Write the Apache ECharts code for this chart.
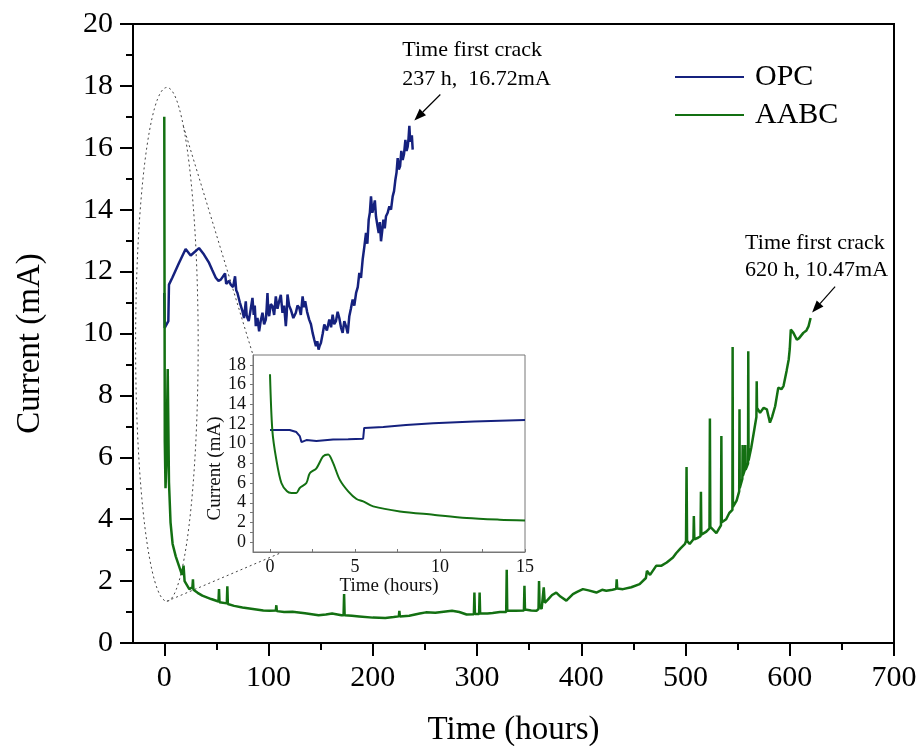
<!DOCTYPE html>
<html>
<head>
<meta charset="utf-8">
<script src="https://cdn.jsdelivr.net/npm/echarts@6/dist/echarts.min.js"></script>
<style>
html,body{margin:0;padding:0;background:#fff;}
#c{width:919px;height:746px;}
</style>
</head>
<body>
<div id="c"></div>
<script>
// ---------- DATA ----------
const seriesNames = ['OPC', 'AABC'];

const opcTime = [0, 0.4, 2, 3.9, 4.5, 7.7, 14.1, 20.5, 25.3, 33.3,
  38.1, 43, 46, 49.4, 52, 54.2, 56, 58.3, 59.4, 60.6,
  62, 63.8, 66, 67.9, 69, 70.2, 72.5, 75, 76.5, 78.2,
  79, 79.8, 81, 82.5, 84.6, 85.8, 86.8, 87.8, 89.4, 91,
  92.5, 94.2, 95.8, 97.4, 98.2, 99, 99.8, 100.6, 102.2, 103.8,
  105.4, 107, 108.6, 110.2, 111.8, 113.4, 115, 116.6, 117.4, 118.2,
  119.8, 121.4, 123.8, 126.2, 127.8, 129.5, 131, 132.7, 134, 135.2,
  137, 139, 140.7, 142.3, 143.9, 145.5, 146.8, 148, 149, 150.3,
  152, 153.5, 156, 158.3, 160, 161.5, 163, 164.7, 166.3, 167.9,
  169.5, 171.1, 172.7, 174.3, 176, 177.5, 179, 180.7, 182.3, 184,
  185.6, 187.1, 188.7, 190.3, 191.9, 193.5, 194.8, 196.1, 197.2, 198.3,
  199.6, 200.9, 202, 203.1, 204.4, 205.7, 206.8, 207.9, 209, 210.2,
  211.5, 212.7, 214.3, 215.9, 217.5, 219.1, 220.4, 221.7, 222.8, 223.9,
  225, 226.2, 227.4, 228.7, 230, 231.3, 232.4, 233.5, 234.3, 235.1,
  235.9, 236.7, 237.5, 238.3];
const opcCurrent = [11.31, 10.18, 10.13, 10.4, 11.58, 11.8, 12.28, 12.73, 12.52, 12.76,
  12.55, 12.28, 12.05, 11.8, 11.7, 11.74, 11.7, 11.94, 11.6, 11.66,
  11.7, 11.58, 11.5, 11.85, 11.4, 11.31, 11.0, 10.72, 10.5, 11.04,
  10.6, 10.5, 10.4, 10.7, 11.15, 10.6, 10.9, 10.24, 10.5, 10.07,
  10.4, 10.67, 10.3, 10.45, 10.8, 11.31, 10.7, 10.56, 10.95, 10.88,
  10.6, 11.2, 10.8, 11.04, 11.25, 10.67, 10.9, 10.24, 10.6, 11.26,
  10.9, 10.77, 10.5, 10.67, 10.9, 10.83, 10.6, 11.2, 10.85, 11.04,
  10.7, 10.45, 10.3, 10.02, 9.8, 9.59, 9.75, 9.48, 9.6, 9.7,
  10.0, 10.29, 10.1, 10.45, 10.2, 10.61, 10.3, 10.4, 10.7, 10.5,
  10.2, 10.02, 10.4, 10.24, 10.0, 10.56, 10.8, 11.1, 10.9, 11.31,
  11.5, 11.96, 11.8, 12.39, 12.8, 13.25, 12.9, 13.68, 13.9, 14.43,
  13.9, 14.1, 14.3, 13.78, 13.5, 13.25, 13.6, 12.98, 13.3, 13.68,
  13.4, 13.79, 13.9, 14.11, 14.0, 14.43, 14.6, 14.97, 15.2, 15.67,
  15.3, 15.4, 15.9, 15.61, 15.8, 16.26, 15.9, 16.04, 16.3, 16.71,
  16.2, 16.15, 16.4, 15.94];

const aabcTime = [0, 0.5, 1.2, 2.0, 3.3, 4.5, 6, 8, 11, 14,
  17, 18.5, 19.5, 24, 27, 27.5, 28, 32, 36.5, 45,
  52, 52.5, 53, 60, 60.5, 61, 67, 75, 85, 95,
  101, 107, 107.5, 108, 115, 123, 135, 148, 155, 161,
  170, 172, 172.5, 173, 180, 187, 200, 212, 220, 225,
  225.5, 226, 235, 245, 251, 260, 270, 276, 283, 290,
  297, 297.5, 298, 302, 302.5, 303, 310, 315, 322, 328,
  328.5, 329, 337, 345, 345.5, 346, 352, 357, 359, 359.5,
  360, 362, 364, 365, 368, 369.6, 372, 376, 380, 385.7,
  392, 396, 401.6, 407, 414.5, 420, 424, 430, 433.5, 434,
  434.5, 440, 448, 456, 462, 463, 466, 472, 477, 482,
  488, 491, 495, 499.5, 500.5, 501, 501.5, 504, 507.6, 508,
  508.5, 512, 514.4, 514.8, 515.2, 520, 523, 523.4, 523.8, 529.6,
  534, 534.4, 534.8, 539, 542, 545, 545.2, 545.5, 549, 551.5,
  551.8, 552, 554.5, 554.8, 555, 557, 557.3, 557.6, 560, 560.2,
  560.5, 563, 566, 568, 568.3, 568.6, 571.5, 575, 578, 581,
  583, 586, 589, 592, 594, 597, 599, 600, 601, 603.5,
  606.8, 609, 613, 616, 618, 620];
const aabcCurrent = [17.0, 6.5, 5.0, 5.8, 8.85, 5.2, 3.9, 3.2, 2.8, 2.5,
  2.2, 2.5, 2.0, 1.74, 1.8, 2.06, 1.72, 1.62, 1.53, 1.42,
  1.34, 1.74, 1.32, 1.28, 1.83, 1.26, 1.2, 1.15, 1.1, 1.05,
  1.04, 1.05, 1.22, 1.03, 1.0, 1.01, 0.96, 0.9, 0.92, 0.95,
  0.9, 0.9, 1.58, 0.9, 0.88, 0.86, 0.82, 0.81, 0.84, 0.86,
  1.04, 0.86, 0.88, 0.95, 0.99, 0.98, 1.02, 1.04, 1.0, 0.92,
  0.93, 1.63, 0.94, 0.94, 1.63, 0.95, 0.95, 0.97, 1.0, 1.0,
  2.37, 1.05, 1.04, 1.05, 1.85, 1.08, 1.05, 1.04, 1.1, 2.0,
  1.2, 1.1, 1.8, 1.3, 1.4, 1.37, 1.55, 1.63, 1.5, 1.37,
  1.58, 1.65, 1.74, 1.7, 1.63, 1.72, 1.69, 1.72, 1.75, 2.06,
  1.76, 1.74, 1.8, 1.9, 2.1, 2.33, 2.2, 2.5, 2.5, 2.6,
  2.76, 2.9, 3.05, 3.2, 3.3, 5.69, 3.3, 3.2, 3.35, 4.1,
  3.35, 3.4, 3.45, 4.89, 3.5, 3.6, 3.7, 7.25, 3.75, 3.55,
  3.8, 6.69, 3.9, 4.0, 4.2, 4.3, 9.56, 4.4, 4.6, 4.9,
  7.55, 5.0, 5.3, 6.4, 5.4, 5.6, 6.4, 5.6, 5.8, 9.43,
  5.9, 6.3, 6.9, 7.3, 8.46, 7.6, 7.44, 7.6, 7.55, 7.12,
  7.3, 7.65, 8.25, 8.2, 8.3, 8.8, 9.16, 9.5, 10.13, 10.02,
  9.8, 9.85, 10.02, 10.1, 10.23, 10.5];

const insetOpcTime = [0, 1.16, 1.55, 1.75, 1.85, 2.14, 2.73, 3.71, 4.6, 5.48, 5.54, 6.66, 8, 9.6, 12, 15];
const insetOpcCurrent = [11.38, 11.38, 11.18, 10.77, 10.16, 10.36, 10.26, 10.43, 10.45, 10.5, 11.6, 11.7, 11.9, 12.06, 12.25, 12.4];
const insetAabcTime = [0, 0.14, 0.37, 0.67, 1.0, 1.26, 1.55, 1.75, 2.14, 2.34, 2.73, 3.12, 3.42, 3.71, 4.1, 4.6, 5.09, 5.48, 6.07, 7.64, 9.6, 11.57, 13.5, 15];
const insetAabcCurrent = [17.05, 11.3, 8.4, 6.0, 5.16, 5.0, 5.0, 5.5, 6.0, 7.0, 7.5, 8.7, 8.9, 8.05, 6.35, 5.16, 4.38, 4.14, 3.63, 3.12, 2.78, 2.45, 2.28, 2.2];

// tick labels
const mainXTicks = [0, 100, 200, 300, 400, 500, 600, 700];
const mainXMinorTicks = [50, 150, 250, 350, 450, 550, 650];
const insetXTicks = [0, 5, 10, 15];
const insetXMinorTicks = [0, 2.5, 5, 7.5, 10, 12.5, 15];
const insetYTicks = [0, 2, 4, 6, 8, 10, 12, 14, 16, 18];
const insetYMinorTicks = [0, 1, 2, 3, 4, 5, 6, 7, 8, 9, 10, 11, 12, 13, 14, 15, 16, 17, 18];

// annotations
const crackTime = [237, 620];
const crackCurrent = [16.72, 10.47];
const crackLine1 = ['Time first crack', 'Time first crack'];
const crackLine2 = ['237 h,  16.72mA', '620 h, 10.47mA'];

// ---------- CHART ----------
const FONT = '"Liberation Serif", "Times New Roman", serif';
const BLUE = '#15217e';
const GREEN = '#137012';
const zip = (a, b) => a.map((v, i) => [v, b[i]]);

const chart = echarts.init(document.getElementById('c'), null, {renderer: 'canvas', width: 919, height: 746});

const blackLine = {show: true, onZero: false, lineStyle: {color: '#000', width: 2}};
const grayLine = {show: true, onZero: false, lineStyle: {color: '#777', width: 1}};

chart.setOption({
  animation: false,
  backgroundColor: '#fff',
  grid: [
    {left: 133, right: 25, top: 24, bottom: 103, show: true, borderColor: '#000', borderWidth: 2, backgroundColor: 'transparent', outerBoundsMode: 'none', containLabel: false},
    {left: 253, top: 355, width: 272, height: 197, show: true, borderColor: '#777', borderWidth: 1, backgroundColor: '#fff', z: 5, outerBoundsMode: 'none', containLabel: false}
  ],
  legend: {
    show: true, orient: 'vertical', left: 670, top: 57, itemWidth: 69, itemHeight: 2, itemGap: 8,
    icon: 'rect', selectedMode: false, data: seriesNames,
    textStyle: {fontFamily: FONT, fontSize: 30, color: '#000', padding: [0, 0, 0, 6]}
  },
  xAxis: [
    {gridIndex: 0, type: 'value', min: -30, max: 700, position: 'bottom',
     axisLine: blackLine,
     axisTick: {show: true, customValues: mainXTicks, length: 13, lineStyle: {color: '#000', width: 2}},
     axisLabel: {customValues: mainXTicks, fontFamily: FONT, fontSize: 30, color: '#000', margin: 20},
     splitLine: {show: false},
     name: 'Time (hours)', nameLocation: 'middle', nameGap: 71,
     nameTextStyle: {fontFamily: FONT, fontSize: 33, color: '#000'}},
    {gridIndex: 0, type: 'value', min: -30, max: 700, position: 'bottom',
     axisLine: {show: false, onZero: false},
     axisTick: {show: true, customValues: mainXMinorTicks, length: 7, lineStyle: {color: '#000', width: 2}},
     axisLabel: {show: false}, splitLine: {show: false}},
    {gridIndex: 1, type: 'value', min: -1, max: 15, position: 'bottom', z: 7,
     axisLine: grayLine,
     axisTick: {show: true, inside: true, customValues: insetXMinorTicks, length: 3, lineStyle: {color: '#777', width: 1}},
     axisLabel: {customValues: insetXTicks, fontFamily: FONT, fontSize: 18, color: '#111', margin: 6},
     splitLine: {show: false},
     name: 'Time (hours)', nameLocation: 'middle', nameGap: 22,
     nameTextStyle: {fontFamily: FONT, fontSize: 19, color: '#111'}}
  ],
  yAxis: [
    {gridIndex: 0, type: 'value', min: 0, max: 20, interval: 2, position: 'left',
     axisLine: blackLine,
     axisTick: {show: true, length: 13, lineStyle: {color: '#000', width: 2}},
     minorTick: {show: true, splitNumber: 2, length: 7, lineStyle: {color: '#000', width: 2}},
     axisLabel: {fontFamily: FONT, fontSize: 30, color: '#000', margin: 20},
     splitLine: {show: false}, minorSplitLine: {show: false},
     name: 'Current (mA)', nameLocation: 'middle', nameGap: 86,
     nameTextStyle: {fontFamily: FONT, fontSize: 33, color: '#000', padding: [0, 20, 0, 0]}},
    {gridIndex: 1, type: 'value', min: -1, max: 19, position: 'left', z: 7,
     axisLine: grayLine,
     axisTick: {show: true, customValues: insetYMinorTicks, length: 3, lineStyle: {color: '#777', width: 1}},
     axisLabel: {customValues: insetYTicks, fontFamily: FONT, fontSize: 18, color: '#111', margin: 7},
     splitLine: {show: false},
     name: 'Current (mA)', nameLocation: 'middle', nameGap: 26,
     nameTextStyle: {fontFamily: FONT, fontSize: 19, color: '#111', padding: [0, 30, 0, 0]}}
  ],
  series: [
    {name: 'OPC', type: 'line', xAxisIndex: 0, yAxisIndex: 0, data: zip(opcTime, opcCurrent),
     showSymbol: false, symbol: 'none', color: BLUE, lineStyle: {color: BLUE, width: 2.5}, itemStyle: {color: BLUE}, z: 2},
    {name: 'AABC', type: 'line', xAxisIndex: 0, yAxisIndex: 0, data: zip(aabcTime, aabcCurrent),
     showSymbol: false, symbol: 'none', color: GREEN, lineStyle: {color: GREEN, width: 2.5}, itemStyle: {color: GREEN}, z: 2},
    {name: 'OPC', type: 'line', xAxisIndex: 2, yAxisIndex: 1, data: zip(insetOpcTime, insetOpcCurrent),
     showSymbol: false, symbol: 'none', color: BLUE, lineStyle: {color: BLUE, width: 2}, itemStyle: {color: BLUE}, z: 8},
    {name: 'AABC', type: 'line', xAxisIndex: 2, yAxisIndex: 1, data: zip(insetAabcTime, insetAabcCurrent),
     smooth: 0.3, showSymbol: false, symbol: 'none', color: GREEN, lineStyle: {color: GREEN, width: 2}, itemStyle: {color: GREEN}, z: 8}
  ]
});

// ---------- annotations (positions derived from data through the axes) ----------
const P = (x, y) => chart.convertToPixel({seriesIndex: 0}, [x, y]);
const PI = (x, y) => chart.convertToPixel({seriesIndex: 2}, [x, y]);
const graphics = [];
const dotted = {stroke: '#444', lineWidth: 1, lineDash: [2, 3], fill: null};

// zoom ellipse around the first hours
const ellCenter = [2.5, 9.65], ellHalfT = 30, ellHalfC = 8.3;
const c0 = P(ellCenter[0], ellCenter[1]);
const cx1 = P(ellCenter[0] + ellHalfT, ellCenter[1]);
const cy1 = P(ellCenter[0], ellCenter[1] + ellHalfC);
graphics.push({type: 'ellipse', z: 1, shape: {cx: c0[0], cy: c0[1], rx: cx1[0] - c0[0], ry: c0[1] - cy1[1]}, style: Object.assign({}, dotted, {fill: 'none'})});
// connector lines to the inset
const topStart = P(18.3, 16.7), topEnd = PI(-1, 19);
const botStart = P(2.5, 1.35), botEnd = PI(0.75, -1);
graphics.push({type: 'line', z: 1, shape: {x1: topStart[0], y1: topStart[1], x2: topEnd[0], y2: topEnd[1]}, style: dotted});
graphics.push({type: 'line', z: 1, shape: {x1: botStart[0], y1: botStart[1], x2: botEnd[0], y2: botEnd[1]}, style: dotted});

// crack annotations
const arrowOff = [{tail: [29, -31], tip: [3, -5], text: [-9, -75, -46]},
                  {tail: [24.5, -32.4], tip: [1.5, -6.4], text: [-65.5, -76, -49]}];
for (let i = 0; i < crackTime.length; i++) {
  const p = P(crackTime[i], crackCurrent[i]);
  const o = arrowOff[i];
  const tail = [p[0] + o.tail[0], p[1] + o.tail[1]];
  const tip = [p[0] + o.tip[0], p[1] + o.tip[1]];
  const dx = tip[0] - tail[0], dy = tip[1] - tail[1];
  const len = Math.hypot(dx, dy), ux = dx / len, uy = dy / len;
  const L = 12, W = 4.5;
  const base = [tip[0] - ux * L, tip[1] - uy * L];
  graphics.push({type: 'line', z: 10, shape: {x1: tail[0], y1: tail[1], x2: base[0], y2: base[1]}, style: {stroke: '#000', lineWidth: 1.2}});
  graphics.push({type: 'polygon', z: 10, shape: {points: [tip, [base[0] - uy * W, base[1] + ux * W], [base[0] + uy * W, base[1] - ux * W]]}, style: {fill: '#000'}});
  graphics.push({type: 'text', z: 10, x: p[0] + o.text[0], y: p[1] + o.text[1],
    style: {text: crackLine1[i], font: '22px ' + FONT, fill: '#000', textAlign: 'left', textVerticalAlign: 'middle', verticalAlign: 'middle'}});
  graphics.push({type: 'text', z: 10, x: p[0] + o.text[0], y: p[1] + o.text[2],
    style: {text: crackLine2[i], font: '22px ' + FONT, fill: '#000', textAlign: 'left', textVerticalAlign: 'middle', verticalAlign: 'middle'}});
}
chart.setOption({graphic: graphics});
</script>
</body>
</html>
